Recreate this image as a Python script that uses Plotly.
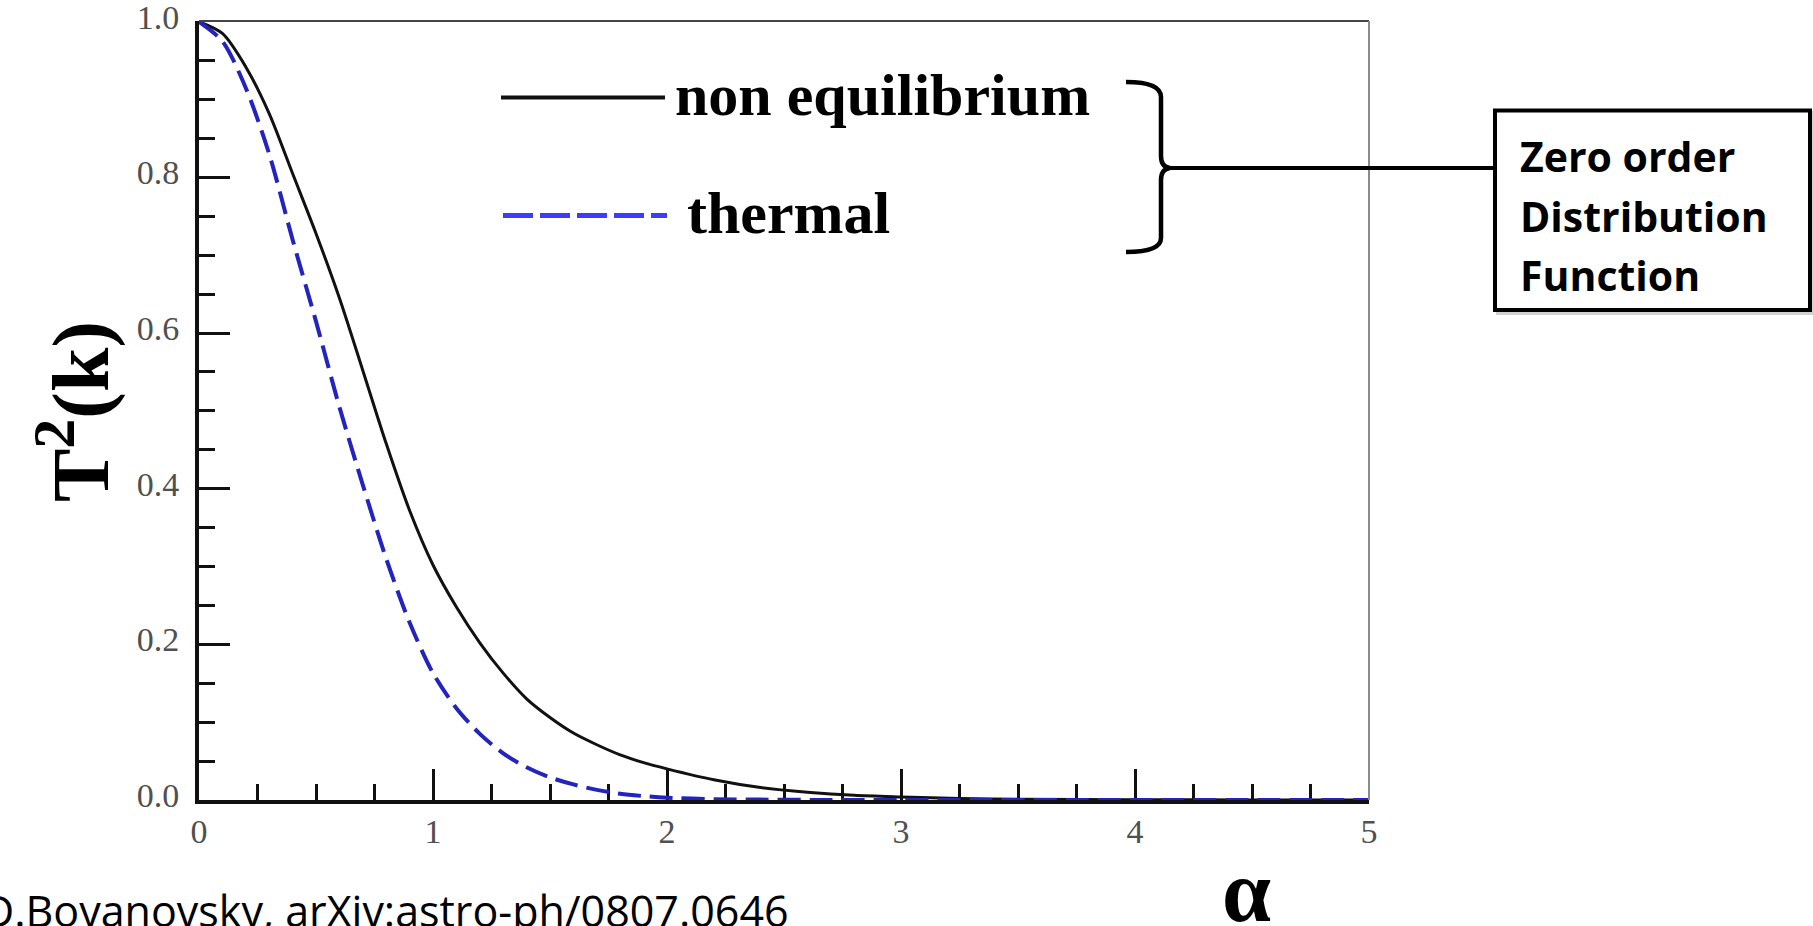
import plotly.graph_objects as go

# ---------------- data ----------------
alpha_noneq = [0, 0.1, 0.2, 0.3, 0.4, 0.5, 0.6, 0.7, 0.8, 0.9, 1.0, 1.1, 1.2, 1.3, 1.4,
               1.5, 1.6, 1.7, 1.8, 1.9, 2.0, 2.2, 2.4, 2.6, 2.8, 3.0, 3.25, 3.5, 4.0, 4.5, 5.0]
t2_noneq = [1.0, 0.985, 0.942, 0.882, 0.805, 0.728, 0.645, 0.552, 0.458, 0.372, 0.302,
            0.248, 0.202, 0.163, 0.130, 0.106, 0.086, 0.071, 0.058, 0.048, 0.040, 0.026,
            0.016, 0.010, 0.006, 0.004, 0.002, 0.001, 0.0004, 0.0001, 0.0]

alpha_thermal = [0, 0.1, 0.2, 0.3, 0.4, 0.5, 0.6, 0.7, 0.8, 0.9, 1.0, 1.1, 1.2, 1.3, 1.4,
                 1.5, 1.6, 1.7, 1.8, 1.9, 2.0, 2.2, 2.4, 2.7, 3.0, 4.0, 5.0]
t2_thermal = [1.0, 0.975, 0.915, 0.83, 0.72, 0.615, 0.505, 0.405, 0.31, 0.228, 0.163,
              0.118, 0.085, 0.06, 0.042, 0.029, 0.02, 0.013, 0.008, 0.005, 0.003, 0.001,
              0.0005, 0.0, 0.0, 0.0, 0.0]

x_ticks = [0, 1, 2, 3, 4, 5]
x_ticklabels = ["0", "1", "2", "3", "4", "5"]
y_ticks = [0.0, 0.2, 0.4, 0.6, 0.8, 1.0]
y_ticklabels = ["0.0", "0.2", "0.4", "0.6", "0.8", "1.0"]

legend_names = ["non equilibrium", "thermal"]
box_lines = ["Zero order", "Distribution", "Function"]
credit = "D.Boyanovsky, arXiv:astro-ph/0807.0646"

# ---------------- layout geometry ----------------
W, H = 1813, 926
ML, MR, MT, MB = 199, 444, 21, 126
PW, PH = W - ML - MR, H - MT - MB


def px(x):
    return (x - ML) / PW


def py(y):
    return (H - MB - y) / PH


BLACK = "#111111"
BLUE = "#2323bd"
LEG_BLUE = "#3c3cff"

fig = go.Figure()
fig.add_trace(go.Scatter(x=alpha_noneq, y=t2_noneq, mode="lines", name=legend_names[0],
                         line=dict(color=BLACK, width=3, shape="spline", smoothing=0.8)))
fig.add_trace(go.Scatter(x=alpha_thermal, y=t2_thermal, mode="lines", name=legend_names[1],
                         line=dict(color=BLUE, width=4, dash="23px,9px", shape="spline",
                                   smoothing=0.8)))

tickfont = dict(family="Liberation Serif", size=34, color="#505050")
fig.update_xaxes(range=[0, 5], tickvals=x_ticks, ticktext=x_ticklabels, ticks="inside",
                 ticklen=31, tickwidth=2.5, tickcolor=BLACK, showline=True, linewidth=4,
                 linecolor=BLACK, showgrid=False, zeroline=False, layer="below traces",
                 tickfont=tickfont, ticklabelstandoff=-2, automargin=False,
                 ticklabeloverflow="allow",
                 minor=dict(dtick=0.25, tick0=0, ticks="inside", ticklen=16, tickwidth=2.5,
                            tickcolor=BLACK, showgrid=False))
fig.update_yaxes(range=[0, 1.001], tickvals=y_ticks, ticktext=y_ticklabels, ticks="inside",
                 ticklen=31, tickwidth=2.5, tickcolor=BLACK, showline=True, linewidth=4,
                 linecolor=BLACK, showgrid=False, zeroline=False, layer="below traces",
                 tickfont=tickfont, ticklabelstandoff=9, ticklabelshift=-5,
                 ticklabeloverflow="allow", automargin=False,
                 minor=dict(dtick=0.05, tick0=0, ticks="inside", ticklen=16, tickwidth=2.5,
                            tickcolor=BLACK, showgrid=False))

shapes = []
# top and right frame
shapes.append(dict(type="line", xref="paper", yref="paper", x0=0, x1=1, y0=1, y1=1,
                   line=dict(color="#444444", width=2)))
shapes.append(dict(type="line", xref="paper", yref="paper", x0=1, x1=1, y0=0, y1=1,
                   line=dict(color="#8a8a8a", width=2)))
# legend samples
shapes.append(dict(type="line", xref="paper", yref="paper", x0=px(501), x1=px(665),
                   y0=py(97.5), y1=py(97.5), line=dict(color=BLACK, width=4)))
shapes.append(dict(type="line", xref="paper", yref="paper", x0=px(503), x1=px(667),
                   y0=py(215.5), y1=py(215.5), line=dict(color=LEG_BLUE, width=5, dash="30px,7px")))


def P(x, y):
    return f"{px(x):.5f},{py(y):.5f}"


brace = (f"M {P(1126, 82)} Q {P(1161, 82)} {P(1161, 97)} L {P(1161, 156)} "
         f"Q {P(1161, 167)} {P(1170, 168)} "
         f"M {P(1170, 168)} Q {P(1161, 169)} {P(1161, 180)} L {P(1161, 238)} "
         f"Q {P(1161, 252)} {P(1126, 252)}")
shapes.append(dict(type="path", xref="paper", yref="paper", path=brace,
                   line=dict(color="black", width=4.5)))
shapes.append(dict(type="line", xref="paper", yref="paper", x0=px(1166), x1=px(1495),
                   y0=py(168), y1=py(168), line=dict(color="black", width=4)))
# text box with a faint shadow
shapes.append(dict(type="rect", xref="paper", yref="paper", x0=px(1498), x1=px(1813),
                   y0=py(113), y1=py(313), line=dict(color="rgba(0,0,0,0.18)", width=4)))
shapes.append(dict(type="rect", xref="paper", yref="paper", x0=px(1495), x1=px(1810),
                   y0=py(110.5), y1=py(310), line=dict(color="black", width=4),
                   fillcolor="white"))

annotations = []
leg_font = dict(family="Liberation Serif", size=60, color="black", weight="bold")
annotations.append(dict(text=legend_names[0], xref="paper", yref="paper", x=px(673),
                        y=py(95), xanchor="left", yanchor="middle", showarrow=False,
                        font=leg_font))
annotations.append(dict(text=legend_names[1], xref="paper", yref="paper", x=px(685),
                        y=py(213), xanchor="left", yanchor="middle", showarrow=False,
                        font=leg_font))
box_font = dict(family="Open Sans", size=41, color="black", weight="bold")
for txt, yc in zip(box_lines, [156, 216, 275]):
    annotations.append(dict(text=txt, xref="paper", yref="paper", x=px(1518), y=py(yc),
                            xanchor="left", yanchor="middle", showarrow=False,
                            font=box_font))
# axis titles
annotations.append(dict(text="T<sup><span style='font-size:60px'>2</span></sup>(k)",
                        xref="paper", yref="paper", x=px(73),
                        y=py(412), xanchor="center", yanchor="middle", textangle=-90,
                        showarrow=False,
                        font=dict(family="Liberation Serif", size=80, color="black",
                                  weight="bold")))
annotations.append(dict(text="α", xref="paper", yref="paper", x=px(1246), y=py(891),
                        xanchor="center", yanchor="middle", showarrow=False,
                        font=dict(family="Liberation Serif", size=88, color="black",
                                  weight="bold")))
# credit line
annotations.append(dict(text=credit, xref="paper", yref="paper", x=px(-19), y=py(910),
                        xanchor="left", yanchor="middle", showarrow=False,
                        font=dict(family="Open Sans", size=43, color="black")))

fig.update_layout(width=W, height=H, autosize=False,
                  margin=dict(l=ML, r=MR, t=MT, b=MB, pad=0, autoexpand=False),
                  paper_bgcolor="white", plot_bgcolor="white", showlegend=False,
                  shapes=shapes, annotations=annotations)

fig.write_html("out.html")
